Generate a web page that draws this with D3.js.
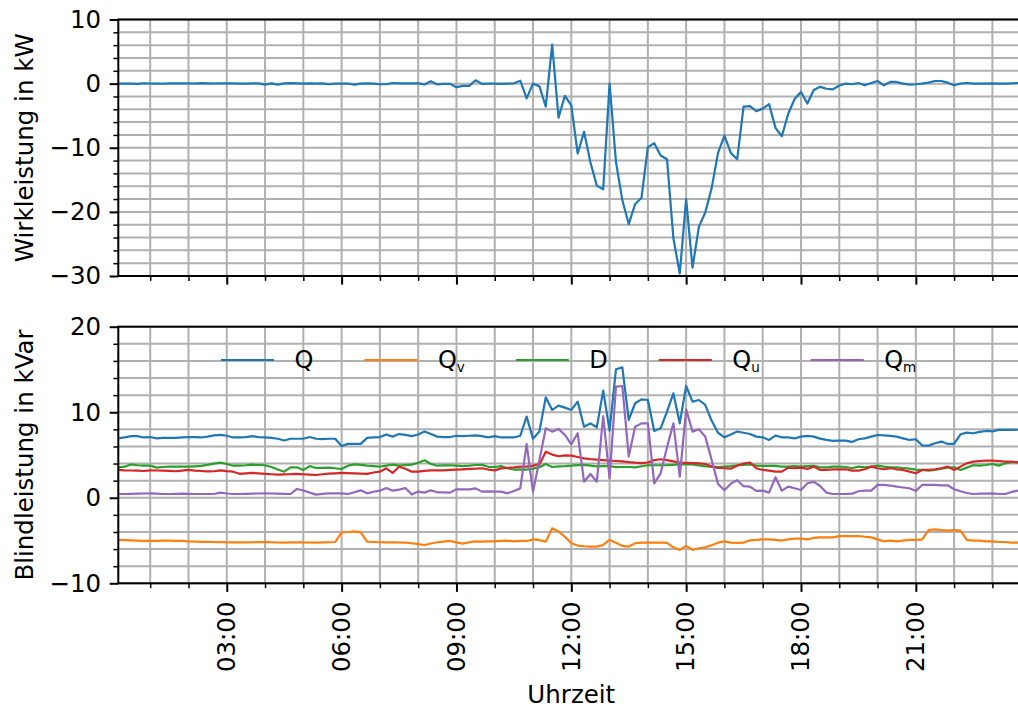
<!DOCTYPE html>
<html><head><meta charset="utf-8">
<script src="https://cdn.jsdelivr.net/npm/d3@7"></script>
<style>
body{margin:0;background:#fff}
svg text{font-family:"DejaVu Sans",sans-serif;fill:#000}
</style>
</head><body>
<svg id="c" width="1018" height="709"></svg>
<script>
// ---------- data ----------
const times = [
"00:10","00:20","00:30","00:40","00:50",
"01:00","01:10","01:20","01:30","01:40","01:50",
"02:00","02:10","02:20","02:30","02:40","02:50",
"03:00","03:10","03:20","03:30","03:40","03:50",
"04:00","04:10","04:20","04:30","04:40","04:50",
"05:00","05:10","05:20","05:30","05:40","05:50",
"06:00","06:10","06:20","06:30","06:40","06:50",
"07:00","07:10","07:20","07:30","07:40","07:50",
"08:00","08:10","08:20","08:30","08:40","08:50",
"09:00","09:10","09:20","09:30","09:40","09:50",
"10:00","10:10","10:20","10:30","10:40","10:50",
"11:00","11:10","11:20","11:30","11:40","11:50",
"12:00","12:10","12:20","12:30","12:40","12:50",
"13:00","13:10","13:20","13:30","13:40","13:50",
"14:00","14:10","14:20","14:30","14:40","14:50",
"15:00","15:10","15:20","15:30","15:40","15:50",
"16:00","16:10","16:20","16:30","16:40","16:50",
"17:00","17:10","17:20","17:30","17:40","17:50",
"18:00","18:10","18:20","18:30","18:40","18:50",
"19:00","19:10","19:20","19:30","19:40","19:50",
"20:00","20:10","20:20","20:30","20:40","20:50",
"21:00","21:10","21:20","21:30","21:40","21:50",
"22:00","22:10","22:20","22:30","22:40","22:50",
"23:00","23:10","23:20","23:30","23:40"];
const xEnd = "23:50";

// Wirkleistung (kW)
const P = [
0,0.02,0,-0.03,0.03,0.02,0,-0.02,0.03,0.05,
0.05,0.03,0.02,0.08,0.05,0.02,0.05,0.03,0.05,0,
0,0.03,0.05,-0.15,0.03,-0.15,0.03,0.08,0.03,0,
0.03,0,0.05,-0.1,0,0,0.02,-0.15,0,0.03,
0,-0.1,-0.1,0.1,0.05,0.05,0.05,0.03,-0.13,0.36,
-0.13,-0.05,-0.04,-0.55,-0.35,-0.35,0.52,-0.04,0,0,
-0.04,0,0.05,0.45,-2.3,0,-0.4,-3.6,6.1,-5.3,
-1.9,-3.4,-10.9,-7.5,-12.3,-15.9,-16.5,0,-12.2,-18.2,
-21.9,-18.8,-17.8,-9.9,-9.3,-11.2,-11.8,-24.1,-29.6,-18.0,
-28.7,-22.3,-20.1,-16.3,-10.8,-8.1,-10.8,-11.8,-3.6,-3.5,
-4.3,-3.9,-3.2,-6.9,-8.2,-4.7,-2.4,-1.3,-3.1,-1.0,
-0.5,-0.8,-0.9,-0.3,0,-0.1,0.1,-0.26,0.1,0.41,
-0.26,0.26,0.26,0,-0.16,-0.1,0,0.15,0.41,0.41,
0.15,-0.26,0,0.1,0,0,0,0.05,0,0,
0.05,0.1];

// Blindleistung (kVar)
const Q = [
6.95,7.07,7.2,7.2,7.05,7.1,6.95,7.0,7.0,7.0,
7.05,7.1,7.1,7.05,7.15,7.3,7.35,7.25,7.05,7.05,
7.1,7.2,7.1,7.05,7.0,6.9,6.7,6.9,6.9,6.9,
7.1,6.9,6.85,6.9,6.9,6.06,6.3,6.3,6.3,7.0,
7.05,7.1,7.4,7.15,7.45,7.35,7.2,7.4,7.75,7.45,
7.15,7.1,7.1,7.25,7.2,7.25,7.3,7.2,7.07,7.2,
7.05,7.05,7.05,7.25,9.49,6.9,7.75,11.75,10.27,10.77,
10.54,10.27,11.24,8.31,8.7,8.24,12.53,7.85,15.02,15.25,
9.1,11.05,11.51,11.43,7.81,8.12,10.07,12.21,8.7,13.07,
11.24,11.43,10.85,9.0,7.6,7.07,7.4,7.75,7.6,7.45,
7.15,7.07,6.76,7.27,7.07,7.07,6.95,7.15,7.23,7.15,
6.92,6.76,6.65,6.68,6.68,6.53,6.84,6.95,7.15,7.34,
7.3,7.23,7.15,6.95,6.76,6.84,6.1,6.1,6.37,6.57,
6.29,6.29,7.42,7.62,7.54,7.7,7.81,7.77,7.93,7.93,
7.93,7.95];
const Qv = [
-4.93,-4.95,-4.97,-5.0,-5.05,-5.03,-5.05,-5.02,-5.01,-5.03,
-5.05,-5.1,-5.13,-5.15,-5.15,-5.17,-5.19,-5.2,-5.21,-5.21,
-5.21,-5.2,-5.19,-5.17,-5.2,-5.23,-5.25,-5.22,-5.2,-5.21,
-5.23,-5.25,-5.22,-5.2,-5.17,-4.04,-4.0,-3.92,-4.04,-5.13,
-5.17,-5.2,-5.21,-5.21,-5.23,-5.25,-5.32,-5.42,-5.52,-5.35,
-5.2,-5.12,-5.05,-5.22,-5.36,-5.2,-5.1,-5.13,-5.1,-5.09,
-5.05,-5.01,-5.09,-5.05,-5.05,-4.86,-4.95,-5.13,-3.57,-3.95,
-4.56,-5.32,-5.59,-5.67,-5.71,-5.71,-5.52,-4.93,-5.25,-5.63,
-5.71,-5.32,-5.25,-5.25,-5.25,-5.25,-5.28,-5.79,-6.1,-5.63,
-6.1,-5.9,-5.79,-5.55,-5.25,-5.09,-5.25,-5.28,-5.25,-4.97,
-4.93,-4.86,-4.86,-4.93,-5.0,-4.86,-4.78,-4.78,-4.86,-4.7,
-4.63,-4.63,-4.63,-4.48,-4.48,-4.48,-4.48,-4.56,-4.63,-4.86,
-5.09,-5.0,-5.09,-5.0,-4.93,-4.93,-4.86,-3.77,-3.7,-3.77,
-3.85,-3.77,-3.85,-4.93,-5.0,-5.0,-5.09,-5.09,-5.17,-5.17,
-5.25,-5.25];
const D = [
3.56,3.63,3.9,3.8,3.76,3.76,3.52,3.6,3.63,3.63,
3.63,3.63,3.68,3.72,3.85,4.0,4.1,3.95,3.75,3.75,
3.8,3.87,3.83,3.8,3.6,3.3,3.05,3.56,3.56,3.25,
3.7,3.48,3.5,3.52,3.45,3.36,3.75,3.9,3.85,3.76,
3.7,3.63,3.75,3.87,3.75,3.82,3.87,4.1,4.38,3.95,
3.75,3.78,3.8,3.75,3.7,3.75,3.83,3.85,3.62,3.6,
3.7,3.45,3.3,3.33,3.3,3.4,3.56,3.95,3.6,3.68,
3.7,3.75,3.82,3.85,3.76,3.68,3.7,3.7,3.58,3.6,
3.6,3.55,3.68,3.8,3.8,3.8,3.8,3.85,3.92,3.9,
3.9,3.78,3.68,3.64,3.6,3.64,3.7,3.8,3.85,3.9,
3.76,3.72,3.72,3.72,3.64,3.64,3.7,3.64,3.7,3.72,
3.56,3.56,3.64,3.64,3.6,3.45,3.64,3.56,3.64,3.76,
3.64,3.56,3.56,3.48,3.41,3.29,3.25,3.17,3.25,3.41,
3.52,3.56,3.25,3.52,3.8,3.76,3.83,3.95,3.76,4.03,
4.15,4.15];
const Qu = [
3.25,3.21,3.19,3.17,3.13,3.21,3.19,3.17,3.15,3.1,
3.18,3.25,3.18,3.13,3.08,3.1,3.21,3.12,3.05,2.8,
2.85,2.9,2.85,2.8,2.75,2.7,2.74,2.76,2.8,2.75,
2.7,2.66,2.75,2.82,2.86,2.9,2.88,2.86,2.83,2.8,
2.95,3.05,3.44,2.9,3.63,3.4,3.05,3.05,3.15,3.21,
3.21,3.21,3.25,3.29,3.33,3.37,3.4,3.45,3.3,3.2,
3.44,3.5,3.55,3.63,3.64,3.75,3.9,5.39,5.05,4.85,
4.95,4.92,4.77,4.6,4.52,4.46,4.4,4.35,4.3,4.25,
4.16,4.1,4.06,4.12,4.4,4.5,4.4,4.25,4.12,4.08,
4.05,4.03,3.95,3.64,3.5,3.45,3.4,3.75,4.0,4.12,
3.45,3.25,3.17,3.06,3.06,3.52,3.45,3.52,3.37,3.64,
3.25,3.25,3.33,3.33,3.33,3.17,3.17,3.33,3.64,3.45,
3.33,3.45,3.33,3.25,3.06,2.86,3.25,3.25,3.33,3.45,
3.64,3.25,3.64,4.03,4.22,4.3,4.34,4.34,4.3,4.22,
4.22,4.15];
const Qm = [
0.44,0.44,0.46,0.48,0.5,0.52,0.48,0.44,0.44,0.46,
0.48,0.46,0.44,0.44,0.44,0.44,0.6,0.5,0.44,0.44,
0.46,0.48,0.5,0.52,0.5,0.48,0.46,0.44,1.03,0.85,
0.6,0.37,0.45,0.52,0.52,0.52,0.44,0.65,0.87,0.52,
0.7,0.83,1.13,0.83,0.95,1.13,0.37,0.72,0.6,0.87,
0.64,0.62,0.6,0.99,0.99,0.99,1.1,0.72,0.75,0.72,
0.72,0.52,0.8,1.1,6.27,0.7,4.4,8.12,7.73,8.05,
7.34,6.25,7.54,1.88,2.78,1.88,9.56,2.27,12.99,13.07,
4.81,8.31,8.7,8.7,1.69,2.86,5.9,8.7,2.47,10.34,
7.73,8.0,7.15,4.42,1.6,0.87,1.65,2.05,1.35,1.3,
0.8,0.83,0.6,2.39,0.83,1.3,1.11,0.91,1.7,1.85,
1.37,0.6,0.44,0.44,0.44,0.48,0.76,0.83,0.83,1.5,
1.5,1.43,1.3,1.2,1.11,0.8,1.5,1.5,1.5,1.46,
1.46,0.99,0.76,0.56,0.44,0.48,0.48,0.52,0.44,0.44,
0.68,0.83];

const xTickLabels = ["03:00","06:00","09:00","12:00","15:00","18:00","21:00"];
const topYTicks = [10, 0, -10, -20, -30];
const botYTicks = [20, 10, 0, -10];
const topYDomain = [-30, 10];
const botYDomain = [-10, 20];
const yMinorStep = 2;
const legendNames = ["Q", "Q", "D", "Q", "Q"];
const legendSubs  = ["", "v", "", "u", "m"];
const colors = ["#1f77b4", "#ff7f0e", "#2ca02c", "#d62728", "#9467bd"];
const topLabel = "Wirkleistung in kW";
const botLabel = "Blindleistung in kVar";
const xLabel = "Uhrzeit";

// ---------- layout ----------
const L = 118.3, R = 1024.3;
const FS = 24.5;
const parse = d3.utcParse("%H:%M");
const tDates = times.map(parse);
const x = d3.scaleUtc().domain([parse(times[0]), parse(xEnd)]).range([L, R]);
const xMajor = xTickLabels.map(parse);
const xMinor = d3.utcHour.range(x.domain()[0], x.domain()[1]).filter(d => !xMajor.some(m => +m === +d));
const fmtY = v => (v < 0 ? "\u2212" + Math.abs(v) : String(v));
const svg = d3.select("#c");

function panel(top, bottom, yDomain, yTicks, series, label, id) {
  const y = d3.scaleLinear().domain(yDomain).range([bottom, top]);
  const g = svg.append("g");
  const yGrid = d3.range(yDomain[0], yDomain[1] + 1e-9, yMinorStep);
  const yMinorTicks = yGrid.filter(v => !yTicks.includes(v));
  // grid
  g.append("g").selectAll("line").data(yGrid).join("line")
    .attr("x1", L).attr("x2", R).attr("y1", d => y(d)).attr("y2", d => y(d))
    .attr("stroke", "#b0b0b0").attr("stroke-width", 2);
  g.append("g").selectAll("line").data(xMajor.concat(xMinor)).join("line")
    .attr("x1", d => x(d)).attr("x2", d => x(d)).attr("y1", top).attr("y2", bottom)
    .attr("stroke", "#b0b0b0").attr("stroke-width", 2);
  // clip
  svg.append("clipPath").attr("id", id).append("rect")
    .attr("x", L).attr("y", top).attr("width", R - L).attr("height", bottom - top);
  const line = d3.line().x((d, i) => x(tDates[i])).y(d => y(d));
  const lg = g.append("g").attr("clip-path", `url(#${id})`);
  series.forEach(s => {
    lg.append("path").datum(s.values).attr("d", line)
      .attr("fill", "none").attr("stroke", s.color).attr("stroke-width", 2.2)
      .attr("stroke-linejoin", "round").attr("stroke-linecap", "square");
  });
  // spines
  g.append("rect").attr("x", L).attr("y", top).attr("width", R - L).attr("height", bottom - top)
    .attr("fill", "none").attr("stroke", "#000").attr("stroke-width", 2);
  // y axis
  const ya = g.append("g").attr("transform", `translate(${L},0)`)
    .call(d3.axisLeft(y).tickValues(yTicks).tickSize(8.6).tickPadding(8.6).tickSizeOuter(0).tickFormat(fmtY));
  const ym = g.append("g").attr("transform", `translate(${L},0)`)
    .call(d3.axisLeft(y).tickValues(yMinorTicks).tickSize(4.9).tickSizeOuter(0).tickFormat(""));
  // x axis ticks
  const xa = g.append("g").attr("transform", `translate(0,${bottom})`)
    .call(d3.axisBottom(x).tickValues(xMajor).tickSize(8.6).tickSizeOuter(0).tickFormat(""));
  const xm = g.append("g").attr("transform", `translate(0,${bottom})`)
    .call(d3.axisBottom(x).tickValues(xMinor).tickSize(4.9).tickSizeOuter(0).tickFormat(""));
  [ya, ym, xa, xm].forEach(a => a.select(".domain").remove());
  [ya, xa].forEach(a => a.selectAll(".tick line").attr("stroke", "#000").attr("stroke-width", 2));
  [ym, xm].forEach(a => a.selectAll(".tick line").attr("stroke", "#000").attr("stroke-width", 1.5));
  ya.selectAll("text").attr("font-size", FS).attr("font-family", "DejaVu Sans").attr("fill", "#000");
  // y label
  g.append("text").attr("transform", `translate(33,${(top + bottom) / 2}) rotate(-90)`)
    .attr("text-anchor", "middle").attr("font-size", FS).text(label);
  return y;
}

panel(19.5, 276, topYDomain, topYTicks, [{ values: P, color: colors[0] }], topLabel, "clipTop");
const botSeries = [Q, Qv, D, Qu, Qm].map((v, i) => ({ values: v, color: colors[i] }));
panel(326.7, 583.3, botYDomain, botYTicks, botSeries, botLabel, "clipBot");

// x tick labels
svg.append("g").selectAll("text").data(xMajor).join("text")
  .attr("transform", (d, i) => `translate(${x(d) + 8.3},601.5) rotate(-90)`)
  .attr("text-anchor", "end").attr("font-size", FS).text((d, i) => xTickLabels[i]);
// x label
svg.append("text").attr("x", (L + R) / 2).attr("y", 703).attr("text-anchor", "middle")
  .attr("font-size", FS).text(xLabel);

// legend
const leg = svg.append("g");
let cx = 221;
const legY = 360;
legendNames.forEach((name, i) => {
  leg.append("line").attr("x1", cx).attr("x2", cx + 53).attr("y1", legY).attr("y2", legY)
    .attr("stroke", colors[i]).attr("stroke-width", 2.2);
  const tx = cx + 53 + 20.5;
  const t = leg.append("text").attr("x", tx).attr("y", legY + 8.2).attr("font-size", 24).text(name);
  if (legendSubs[i]) t.append("tspan").attr("font-size", 13.5).attr("dy", 3.6).text(legendSubs[i]);
  const w = t.node().getComputedTextLength();
  cx = tx + w + 51;
});
</script>
</body></html>
